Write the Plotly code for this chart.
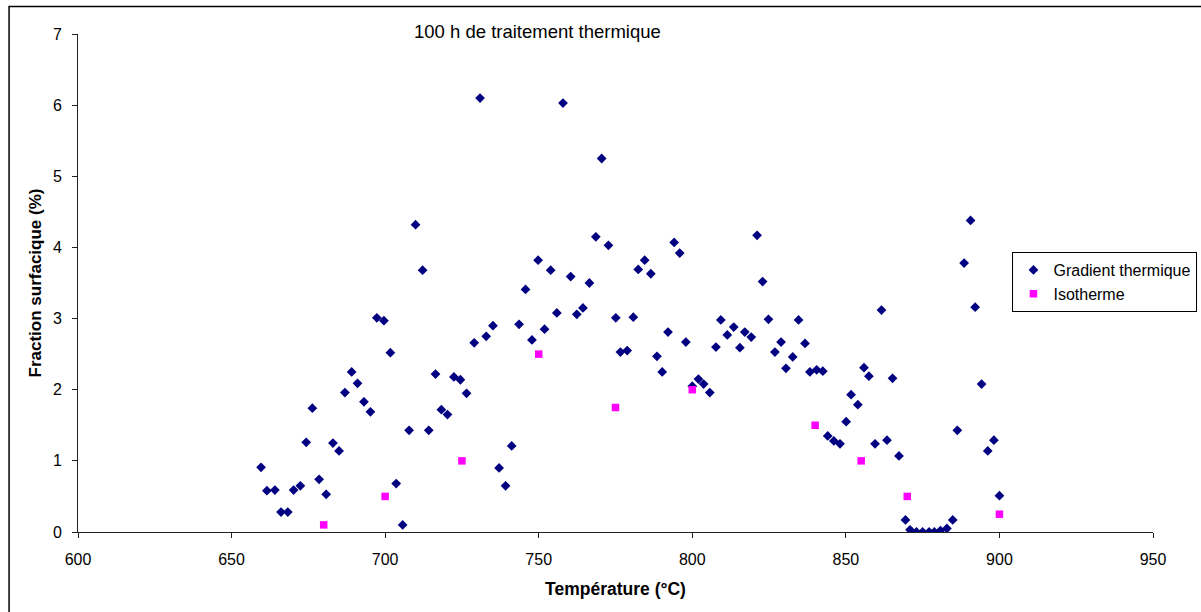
import plotly.graph_objects as go

grad_T = [659.6, 661.5, 664.1, 666.1, 668.3, 670.2, 672.4, 674.3, 676.3, 678.5,
          680.8, 683.0, 685.0, 686.9, 689.1, 691.0, 693.1, 695.2, 697.3, 699.6,
          701.7, 703.6, 705.7, 707.8, 709.9, 712.2, 714.2, 716.4, 718.3, 720.3,
          722.4, 724.5, 726.5, 729.0, 730.9, 732.9, 735.1, 737.1, 739.2, 741.2,
          743.6, 745.7, 747.8, 749.8, 751.9, 753.9, 755.9, 757.9, 760.4, 762.4,
          764.4, 766.5, 768.6, 770.5, 772.7, 775.1, 776.6, 778.8, 780.8, 782.4,
          784.5, 786.5, 788.5, 790.2, 792.1, 794.1, 795.9, 797.9, 800.0, 802.0,
          803.7, 805.7, 807.7, 809.3, 811.4, 813.5, 815.5, 817.1, 819.2, 821.1,
          822.9, 824.8, 826.9, 828.9, 830.5, 832.7, 834.6, 836.7, 838.3, 840.5,
          842.5, 844.1, 846.1, 848.1, 850.1, 851.7, 853.9, 855.9, 857.5, 859.5,
          861.6, 863.4, 865.2, 867.3, 869.4, 870.9, 873.0, 875.0, 877.1, 878.8,
          880.8, 882.9, 884.8, 886.3, 888.5, 890.6, 892.1, 894.2, 896.2, 898.2,
          900.0]
grad_v = [0.91, 0.58, 0.59, 0.28, 0.28, 0.59, 0.65, 1.26, 1.74, 0.74,
          0.53, 1.25, 1.14, 1.96, 2.25, 2.09, 1.83, 1.69, 3.01, 2.97,
          2.52, 0.68, 0.10, 1.43, 4.32, 3.68, 1.43, 2.22, 1.72, 1.65,
          2.18, 2.14, 1.95, 2.66, 6.10, 2.75, 2.90, 0.90, 0.65, 1.21,
          2.92, 3.41, 2.70, 3.82, 2.85, 3.68, 3.08, 6.03, 3.59, 3.06,
          3.15, 3.50, 4.15, 5.25, 4.03, 3.01, 2.53, 2.55, 3.02, 3.69,
          3.82, 3.63, 2.47, 2.25, 2.81, 4.07, 3.92, 2.67, 2.05, 2.15,
          2.08, 1.96, 2.60, 2.98, 2.77, 2.88, 2.59, 2.81, 2.74, 4.17,
          3.52, 2.99, 2.53, 2.67, 2.30, 2.46, 2.98, 2.65, 2.25, 2.28,
          2.26, 1.35, 1.28, 1.24, 1.55, 1.93, 1.79, 2.31, 2.19, 1.24,
          3.12, 1.29, 2.16, 1.07, 0.17, 0.03, 0.00, 0.00, 0.00, 0.00,
          0.02, 0.05, 0.17, 1.43, 3.78, 4.38, 3.16, 2.08, 1.14, 1.29,
          0.51]

iso_T = [680, 700, 725, 750, 775, 800, 840, 855, 870, 900]
iso_v = [0.1, 0.5, 1.0, 2.5, 1.75, 2.0, 1.5, 1.0, 0.5, 0.25]

x_ticks = [600, 650, 700, 750, 800, 850, 900, 950]
y_ticks = [0, 1, 2, 3, 4, 5, 6, 7]

FONT = "Liberation Sans, Arial, sans-serif"

fig = go.Figure()
fig.add_trace(go.Scatter(x=grad_T, y=grad_v, mode="markers", name="Gradient thermique",
                         marker=dict(symbol="diamond", size=7.5, color="#000080")))
fig.add_trace(go.Scatter(x=iso_T, y=iso_v, mode="markers", name="Isotherme",
                         marker=dict(symbol="square", size=7.5, color="#FF00FF")))

W, H = 1201, 612
L, R, T, B = 77.5, 47.5, 34, 80
pw, ph = W - L - R, H - T - B

def px(xp):
    return (xp - L) / pw

def py(yp):
    return (H - B - yp) / ph

AX = "#202020"

fig.update_layout(
    width=W, height=H,
    margin=dict(l=L, r=R, t=T, b=B, autoexpand=False),
    paper_bgcolor="white", plot_bgcolor="white",
    font=dict(family=FONT, size=16, color="black"),
    showlegend=True,
    legend=dict(x=px(1198), y=py(252), xanchor="right", yanchor="top",
                bgcolor="white", bordercolor="black", borderwidth=1,
                font=dict(size=16), itemwidth=30, tracegroupgap=0),
    xaxis=dict(range=[600, 950], tickvals=x_ticks, showgrid=False, zeroline=False,
               showline=True, linecolor=AX, linewidth=1, ticks="outside",
               ticklen=5, tickcolor=AX, tickfont=dict(size=16), ticklabelstandoff=8,
               title=dict(text="<b>Température (°C)</b>", font=dict(size=17.5), standoff=15)),
    yaxis=dict(range=[0, 7], tickvals=y_ticks, showgrid=False, zeroline=False,
               showline=True, linecolor=AX, linewidth=1, ticks="outside",
               ticklen=5, tickcolor=AX, tickfont=dict(size=16), ticklabelstandoff=7,
               title=dict(text="<b>Fraction surfacique (%)</b>", font=dict(size=17), standoff=6)),
    annotations=[dict(text="100 h de traitement thermique", xref="paper", yref="paper",
                      x=px(537), y=py(32), xanchor="center", yanchor="middle",
                      showarrow=False, font=dict(size=18.5))],
    shapes=[dict(type="rect", xref="paper", yref="paper",
                 x0=px(8.5), x1=px(1215), y0=py(630), y1=py(6.5),
                 line=dict(color="black", width=1.5), fillcolor="rgba(0,0,0,0)")],
)

fig.write_html("out.html", config={"displayModeBar": False},
               post_script="document.body.style.margin='0px';")
